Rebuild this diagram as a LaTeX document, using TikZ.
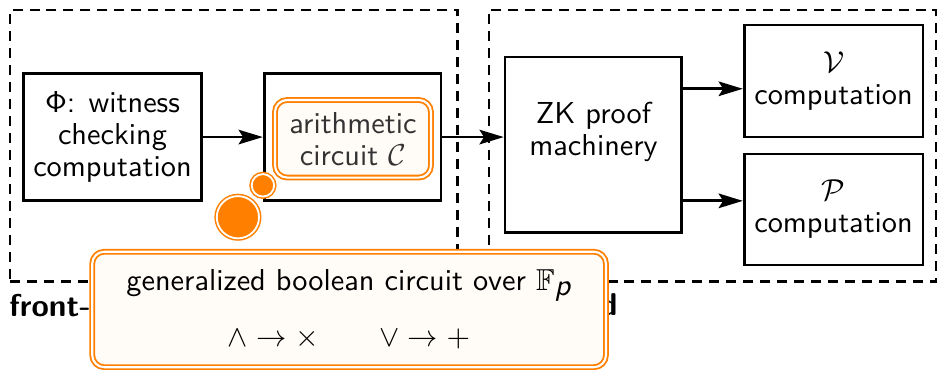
\documentclass[tikz,border=0pt]{standalone}
\usepackage{xcolor}
\usepackage{tikz}
\usepackage{amssymb}
\usetikzlibrary{arrows.meta, positioning, calc}
\definecolor{calloutorange}{HTML}{FF8000}
\definecolor{calloutfill}{HTML}{FFFBF6}
\renewcommand{\familydefault}{\sfdefault}

\begin{document}
\begin{tikzpicture}[
    box/.style={draw, line width=0.9pt, align=center, minimum width=2.05cm, font=\fontsize{10}{10.5}\selectfont},
    zone/.style={draw, line width=0.8pt, dash pattern=on 3.3pt off 2.3pt, minimum width=5.19cm, minimum height=3.15cm},
    callout/.style={draw=calloutorange, double=white, double distance=0.7pt, line width=0.6pt, fill=calloutfill, rounded corners=4pt, align=center, font=\fontsize{10}{10.5}\selectfont},
    bubble/.style={circle, draw=calloutorange, double=white, double distance=0.6pt, line width=0.5pt, fill=calloutorange, inner sep=0pt},
    flow/.style={-{Stealth[length=8pt,width=4.8pt,inset=1.5pt]}, line width=0.9pt},
    zonelabel/.style={font=\fontsize{10.4}{12}\bfseries\selectfont, inner sep=0pt, anchor=north west}
]
    \useasboundingbox (0,0) rectangle (10.87,4.29);
    % Front-end and back-end regions
    \node[zone] (front) at (2.71,2.60) {};
    \node[zone] (back) at (8.265,2.60) {};
    \node[zonelabel, yshift=-3.5pt] (frontlbl) at (front.south west) {front-end};
    \node[zonelabel, yshift=-3.5pt] (backlbl) at (back.south west) {back-end};
    % Front-end boxes
    \node[box, minimum height=1.48cm] (phi) at (1.305,2.70) {$\mathsf{\Phi}$: witness\\checking\\computation};
    \node[box, minimum height=1.48cm] (arith) at (4.09,2.70) {};
    \node[callout, text=black!80, minimum width=1.81cm, minimum height=0.9cm] (circ) at (4.095,2.68) {arithmetic\\circuit $\mathcal{C}$};
    % Back-end boxes
    \node[box, minimum height=2.04cm] (zk) at (6.885,2.61) {ZK proof\\machinery\\ \mbox{}};
    \node[box, minimum height=1.30cm] (ver) at (9.67,3.35) {$\mathcal{V}$\\computation};
    \node[box, minimum height=1.29cm] (prv) at (9.67,1.86) {$\mathcal{P}$\\computation};
    % Connectors
    \draw[flow] (phi) -- (arith);
    \draw[flow] (arith.east) -- (arith.east -| zk.west);
    \coordinate (zkup) at ($(zk.east)+(0,0.65)$);
    \coordinate (zkdown) at ($(zk.east)+(0,-0.65)$);
    \draw[flow] (zkup) -- (zkup -| ver.west);
    \draw[flow] (zkdown) -- (zkdown -| prv.west);
    % Thought bubbles
    \node[bubble, minimum size=0.26cm] (bubsmall) at (3.05,2.14) {};
    \node[bubble, minimum size=0.49cm] (bubbig) at (2.76,1.77) {};
    % Callout
    \node[callout, minimum width=5.96cm, minimum height=1.34cm] (gbc) at (4.05,0.70) {generalized boolean circuit over $\mathbb{F}_{\textit{p}}$\\[8pt]$\wedge \to \times \qquad \vee \to +$};
\end{tikzpicture}
\end{document}
